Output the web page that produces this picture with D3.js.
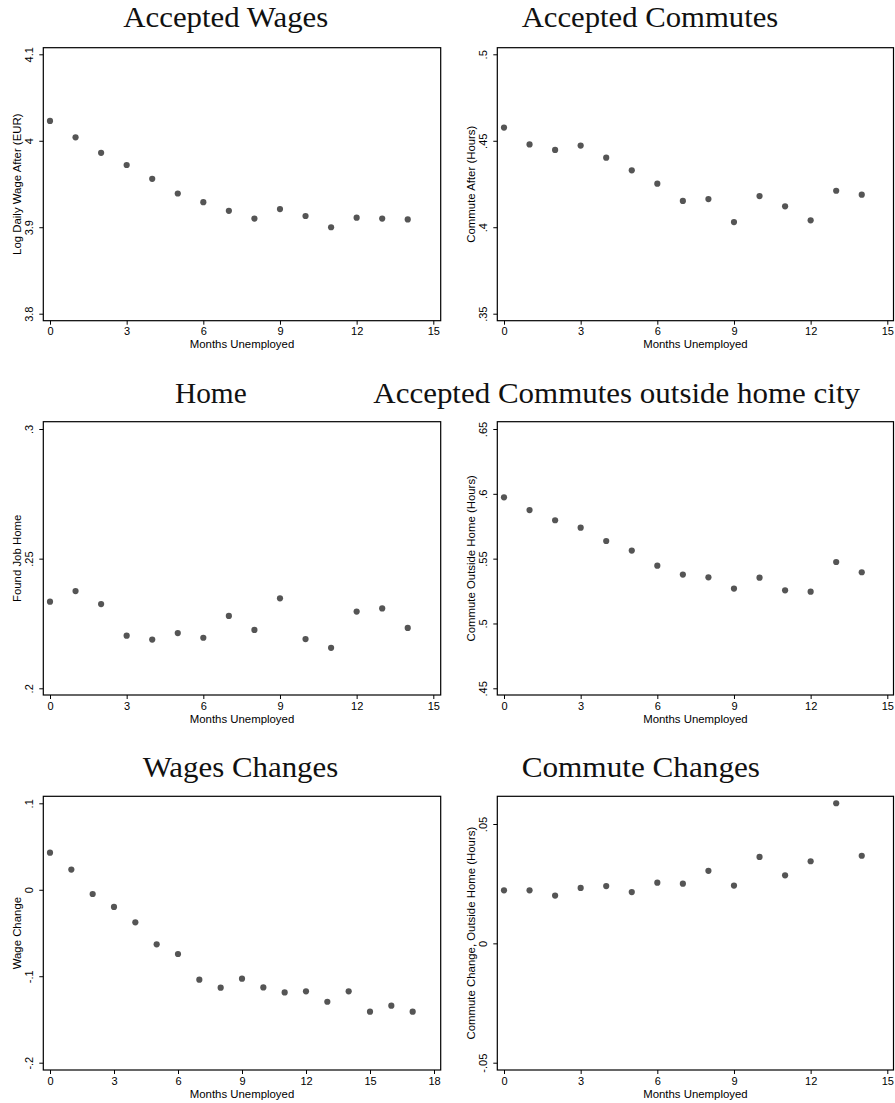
<!DOCTYPE html>
<html>
<head>
<meta charset="utf-8">
<script src="https://cdn.jsdelivr.net/npm/d3@7"></script>
<style>
  body { margin: 0; background: #fff; }
  .tick text { font-family: "Liberation Sans", Arial, sans-serif; font-size: 11px; fill: #000; }
</style>
</head>
<body>
<div id="chart"></div>
<script>
// months unemployed
var months15 = d3.range(0, 15)
var months18 = d3.range(0, 18)

var titles = ["Accepted Wages", "Accepted Commutes", "Home",
  "Accepted Commutes outside home city", "Wages Changes", "Commute Changes"]
var yTitles = ["Log Daily Wage After (EUR)", "Commute After (Hours)", "Found Job Home",
  "Commute Outside Home (Hours)", "Wage Change", "Commute Change, Outside Home (Hours)"]
var xTitle = "Months Unemployed"

var acceptedWages = [4.023, 4.004, 3.986, 3.972, 3.956, 3.939, 3.929, 3.919, 3.910, 3.921, 3.913, 3.900, 3.911, 3.910, 3.909]
var acceptedCommutes = [0.4576, 0.4479, 0.4447, 0.4472, 0.4402, 0.4329, 0.4252, 0.4152, 0.4163, 0.4030, 0.4180, 0.4121, 0.4040, 0.4211, 0.4188]
var foundJobHome = [0.2334, 0.2375, 0.2325, 0.2203, 0.2188, 0.2213, 0.2195, 0.2279, 0.2225, 0.2347, 0.2190, 0.2156, 0.2296, 0.2308, 0.2233]
var commuteOutside = [0.5973, 0.5875, 0.5796, 0.5739, 0.5636, 0.5562, 0.5446, 0.5377, 0.5356, 0.5269, 0.5353, 0.5256, 0.5245, 0.5474, 0.5395]
var wageChange = [0.0429, 0.0233, -0.0049, -0.0199, -0.0377, -0.0631, -0.0743, -0.1040, -0.1132, -0.1028, -0.1129, -0.1187, -0.1175, -0.1295, -0.1175, -0.1410, -0.1341, -0.1410]
var commuteChange = [0.0222, 0.0222, 0.0200, 0.0232, 0.0240, 0.0215, 0.0254, 0.0250, 0.0304, 0.0242, 0.0362, 0.0285, 0.0344, 0.0587, 0.0367]

var seriesList = [acceptedWages, acceptedCommutes, foundJobHome, commuteOutside, wageChange, commuteChange]
var monthsList = [months15, months15, months15, months15, months18, months15]

var xTicks15 = [0, 3, 6, 9, 12, 15]
var xTicks18 = [0, 3, 6, 9, 12, 15, 18]
var xTicksList = [xTicks15, xTicks15, xTicks15, xTicks15, xTicks18, xTicks15]
var yTicksList = [
  [3.8, 3.9, 4, 4.1],
  [0.35, 0.4, 0.45, 0.5],
  [0.2, 0.25, 0.3],
  [0.45, 0.5, 0.55, 0.6, 0.65],
  [-0.2, -0.1, 0, 0.1],
  [-0.05, 0, 0.05]
]

// panel layout: frame box, where the end ticks land, title placement
var layout = [
  {fx0: 43.3, fx1: 440.7, fy0: 47.7, fy1: 320.7, x0: 50, x1: 433.3, yb: 313.7, yt: 54.3, tx: 123.3, ty: 27, tw: 205},
  {fx0: 497.3, fx1: 893.5, fy0: 47.7, fy1: 320.7, x0: 504, x1: 887.3, yb: 313.7, yt: 54.3, tx: 521.7, ty: 27, tw: 256.6},
  {fx0: 43.3, fx1: 440.7, fy0: 421.7, fy1: 695, x0: 50, x1: 433.3, yb: 688.3, yt: 429, tx: 175, ty: 403, tw: 71.7},
  {fx0: 497.3, fx1: 893.5, fy0: 421.7, fy1: 695, x0: 504, x1: 887.3, yb: 688.3, yt: 429, tx: 373.3, ty: 403, tw: 486.7},
  {fx0: 43.3, fx1: 440.7, fy0: 796.3, fy1: 1070, x0: 50, x1: 434, yb: 1062.7, yt: 803.3, tx: 142.7, ty: 777, tw: 195.6},
  {fx0: 497.3, fx1: 893.5, fy0: 796.3, fy1: 1070, x0: 504, x1: 887.3, yb: 1062.7, yt: 824, tx: 521.7, ty: 777, tw: 238.3}
]

var svg = d3.select('#chart')
  .append('svg')
  .attr('width', 895)
  .attr('height', 1103)

svg.append('rect')
  .attr('width', 895)
  .attr('height', 1103)
  .attr('fill', 'white')

// stata style labels: ".5", "-.1"
function stataFmt(v) {
  var s = String(+v.toFixed(4))
  return s.replace(/^0\./, '.').replace(/^-0\./, '-.')
}

seriesList.forEach(function(values, i) {
  var L = layout[i]
  var xt = xTicksList[i]
  var yt = yTicksList[i]

  var x = d3.scaleLinear()
    .domain([xt[0], xt[xt.length - 1]])
    .range([L.x0, L.x1])
  var y = d3.scaleLinear()
    .domain([yt[0], yt[yt.length - 1]])
    .range([L.yb, L.yt])

  var g = svg.append('g')

  // title
  g.append('text')
    .attr('x', L.tx)
    .attr('y', L.ty)
    .attr('textLength', L.tw)
    .attr('lengthAdjust', 'spacingAndGlyphs')
    .style('font-family', '"Liberation Serif", "Times New Roman", serif')
    .style('font-size', '29px')
    .style('fill', '#111')
    .text(titles[i])

  // axes
  var xAxis = g.append('g')
    .attr('transform', 'translate(0,' + L.fy1 + ')')
    .call(d3.axisBottom(x).tickValues(xt).tickFormat(d3.format('d')).tickSize(4).tickPadding(3))
  xAxis.select('.domain').remove()

  var yAxis = g.append('g')
    .attr('transform', 'translate(' + L.fx0 + ',0)')
    .call(d3.axisLeft(y).tickValues(yt).tickFormat(stataFmt).tickSize(4))
  yAxis.select('.domain').remove()
  yAxis.selectAll('.tick text')
    .attr('transform', 'rotate(-90)')
    .attr('x', 0)
    .attr('y', -10)
    .attr('dy', 0)
    .attr('text-anchor', 'middle')

  g.selectAll('.tick line').attr('stroke', '#000')

  // frame
  g.append('rect')
    .attr('x', L.fx0)
    .attr('y', L.fy0)
    .attr('width', L.fx1 - L.fx0)
    .attr('height', L.fy1 - L.fy0)
    .attr('fill', 'none')
    .attr('stroke', '#000')
    .attr('stroke-width', 1.2)

  // axis titles
  g.append('text')
    .attr('x', (L.fx0 + L.fx1) / 2)
    .attr('y', L.fy1 + 27.5)
    .attr('text-anchor', 'middle')
    .style('font-family', '"Liberation Sans", Arial, sans-serif')
    .style('font-size', '11.4px')
    .text(xTitle)

  g.append('text')
    .attr('transform', 'translate(' + (L.fx0 - 22.8) + ',' + ((L.fy0 + L.fy1) / 2) + ') rotate(-90)')
    .attr('text-anchor', 'middle')
    .style('font-family', '"Liberation Sans", Arial, sans-serif')
    .style('font-size', '11.4px')
    .text(yTitles[i])

  // points
  g.selectAll('circle')
    .data(values)
    .enter()
    .append('circle')
    .attr('cx', function(d, j) { return x(monthsList[i][j]) })
    .attr('cy', function(d) { return y(d) })
    .attr('r', 3.1)
    .style('fill', '#555')
})
</script>
</body>
</html>
